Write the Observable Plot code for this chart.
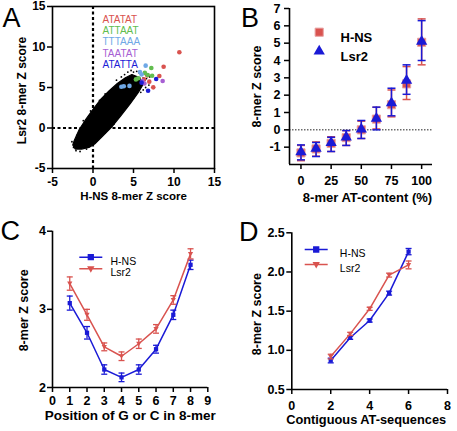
<!DOCTYPE html>
<html><head><meta charset="utf-8">
<script src="https://cdn.jsdelivr.net/npm/d3@7"></script>
<script src="https://cdn.jsdelivr.net/npm/@observablehq/plot@0.6"></script>
<style>
body{margin:0;background:#fff;}
#wrap{position:relative;width:457px;height:431px;overflow:hidden;background:#fff;}
</style></head><body><div id="wrap"></div>
<script>
// ---------- Panel A data ----------
const aDomain = [-5, 15];
const aTicks = [-5, 0, 5, 10, 15];
const aXLabel = "H-NS 8-mer Z score";
const aYLabel = "Lsr2 8-mer Z score";
// outline of the dense cloud of 8-mers
const blobX = [-2.5, -2.3, -1.7, -1.0, 0.0, 1.0, 2.0, 3.0, 4.0, 4.8, 5.8, 6.2, 5.6, 4.6, 3.5, 2.3, 1.2, 0.3, -0.5, -1.4, -2.2, -2.5];
const blobY = [-2.1, -1.5, -0.2, 0.9, 2.3, 3.6, 4.6, 5.5, 6.2, 6.6, 6.2, 5.4, 4.4, 3.0, 1.6, 0.1, -1.0, -1.9, -2.4, -2.6, -2.6, -2.1];
// scattered 8-mers at the cloud's edge
const looseX = [4.3, 4.7, 5.0, 5.4, 5.7, 3.9, 3.5, 6.2, 6.4, 6.6, 7.0, 6.9, 6.5, 6.2, 5.9, 6.0, 5.0, 4.5, 1.5, 0.8, -0.3, -1.2, -2.0, 3.0, 2.6, 1.5, 0.4, -2.4, -2.1, -1.6, -0.8, -2.6, 5.2, 4.0, 2.9];
const looseY = [6.9, 7.1, 6.9, 7.0, 6.8, 6.6, 6.3, 6.2, 5.9, 6.1, 6.3, 5.3, 5.0, 4.7, 4.4, 5.8, 3.7, 3.1, 4.2, 3.4, 2.1, 0.9, -0.9, 1.2, 0.5, -0.6, -1.6, -2.4, -2.8, -2.9, -2.6, -1.7, 4.1, 2.5, 5.9];
const motifs = ["ATATAT", "ATTAAT", "TTTAAA", "TAATAT", "ATATTA"];
const motifColors = ["#d9534f", "#62bd4f", "#6fa8e6", "#a75fd3", "#1c1cd6"];
const motifX = [
  [10.66, 8.72, 8.19, 6.95, 7.44, 6.3, 6.7],
  [7.2, 6.75, 7.3, 5.3, 5.6, 6.4],
  [6.5, 6.0, 4.5, 3.5, 3.8, 5.8],
  [8.6, 6.1, 6.35],
  [7.8, 6.8, 6.0]
];
const motifY = [
  [9.35, 7.57, 6.42, 5.72, 5.02, 6.0, 6.5],
  [7.4, 6.55, 6.45, 6.0, 6.15, 6.8],
  [7.7, 6.6, 5.2, 5.1, 5.15, 6.9],
  [5.8, 5.8, 5.5],
  [6.05, 4.6, 5.6]
];

// ---------- Panel B data ----------
const bXDomain = [-9.5, 109];
const bYDomain = [-2, 7];
const bXTicks = [0, 25, 50, 75, 100];
const bYTicks = [-1, 0, 1, 2, 3, 4, 5, 6, 7];
const atContent = [0, 12.5, 25, 37.5, 50, 62.5, 75, 87.5, 100];
const hnsB   = [-1.33, -1.1, -0.78, -0.45, 0, 0.62, 1.45, 2.65, 5.05];
const hnsBlo = [-1.78, -1.52, -1.25, -0.9, -0.5, 0.05, 0.75, 1.75, 3.75];
const hnsBhi = [-0.9, -0.7, -0.4, -0.05, 0.5, 1.3, 2.3, 3.65, 6.4];
const lsrB   = [-1.28, -1.08, -0.75, -0.42, 0.03, 0.65, 1.55, 2.85, 5.1];
const lsrBlo = [-1.73, -1.54, -1.25, -0.9, -0.5, 0.0, 0.81, 2.05, 4.0];
const lsrBhi = [-0.87, -0.73, -0.43, -0.04, 0.54, 1.31, 2.4, 3.75, 6.3];
const bXLabel = "8-mer AT-content (%)";
const bYLabel = "8-mer Z score";

// ---------- Panel C data ----------
const cXDomain = [0, 9];
const cYDomain = [2, 4];
const cXTicks = [0, 1, 2, 3, 4, 5, 6, 7, 8, 9];
const cYTicks = [2, 3, 4];
const position = [1, 2, 3, 4, 5, 6, 7, 8];
const hnsC    = [3.08, 2.70, 2.23, 2.13, 2.23, 2.49, 2.93, 3.57];
const hnsCerr = [0.09, 0.08, 0.06, 0.055, 0.06, 0.05, 0.06, 0.06];
const lsrC    = [3.33, 2.93, 2.52, 2.40, 2.56, 2.75, 3.12, 3.71];
const lsrCerr = [0.085, 0.07, 0.05, 0.055, 0.06, 0.055, 0.055, 0.065];
const cXLabel = "Position of G or C in 8-mer";

// ---------- Panel D data ----------
const dXDomain = [0, 8];
const dYDomain = [0.5, 2.5];
const dXTicks = [0, 2, 4, 6, 8];
const dYTicks = [0.5, 1.0, 1.5, 2.0, 2.5];
const contiguous = [2, 3, 4, 5, 6];
const hnsD    = [0.87, 1.16, 1.38, 1.73, 2.26];
const hnsDerr = [0.03, 0.02, 0.02, 0.025, 0.04];
const lsrD    = [0.92, 1.21, 1.53, 1.96, 2.09];
const lsrDerr = [0.03, 0.02, 0.02, 0.025, 0.05];
const dXLabel = "Contiguous AT-sequences";

const seriesNames = ["H-NS", "Lsr2"];
const panelLetters = ["A", "B", "C", "D"];

// ---------- styling ----------
const FONT = 'Arial, "Liberation Sans", Helvetica, sans-serif';
const RED = "#d9534f";
const BLUE = "#1a1ad6";
const wrap = document.getElementById("wrap");

// custom symbols
const capSym = {draw(ctx, size) { const r = Math.sqrt(size / Math.PI); ctx.moveTo(-r, 0); ctx.lineTo(r, 0); }};
const downTri = {draw(ctx, size) { const r = Math.sqrt(size / Math.PI); ctx.moveTo(0, r); ctx.lineTo(-r, -r * 0.75); ctx.lineTo(r, -r * 0.75); ctx.closePath(); }};
function keySym(marker) {
  return {draw(ctx, size) {
    const r = Math.sqrt(size / Math.PI);
    ctx.moveTo(-11.5, 0); ctx.lineTo(11.5, 0);
    if (marker === "square") { ctx.moveTo(-r, -r); ctx.lineTo(r, -r); ctx.lineTo(r, r); ctx.lineTo(-r, r); ctx.closePath(); }
    else { ctx.moveTo(0, r); ctx.lineTo(-r, -r * 0.75); ctx.lineTo(r, -r * 0.75); ctx.closePath(); }
  }};
}

function place(svg, left, top) {
  svg.style.position = "absolute";
  svg.style.left = left + "px";
  svg.style.top = top + "px";
  wrap.appendChild(svg);
}
const baseStyle = {fontFamily: FONT, fontSize: "12px", fontWeight: "bold", color: "black", background: "transparent", overflow: "visible"};
const fmt = d => String(d);

// ---------- Panel A ----------
const blob = blobX.map((x, i) => ({x, y: blobY[i]}));
const loose = looseX.map((x, i) => ({x, y: looseY[i]}));
const motifMarks = motifs.map((m, k) =>
  Plot.dot(motifX[k].map((x, i) => ({x, y: motifY[k][i]})), {x: "x", y: "y", r: 2.3, fill: motifColors[k], stroke: "none"}));
const motifLabels = motifs.map((m, k) =>
  Plot.text([m], {text: d => d, frameAnchor: "top-left", dx: 50, dy: 9 + k * 11.4, textAnchor: "start", fill: motifColors[k], fontSize: 10, fontWeight: "normal"}));
const plotA = Plot.plot({
  width: 228, height: 215, marginLeft: 52, marginRight: 14, marginTop: 6, marginBottom: 47,
  x: {domain: aDomain}, y: {domain: aDomain},
  style: baseStyle,
  marks: [
    Plot.line(blob, {x: "x", y: "y", fill: "black", stroke: "black", strokeWidth: 1.2}),
    Plot.dot(loose, {x: "x", y: "y", r: 0.9, fill: "black", stroke: "none"}),
    Plot.ruleX([0], {stroke: "black", strokeWidth: 2.2, strokeDasharray: "3,2.5"}),
    Plot.ruleY([0], {stroke: "black", strokeWidth: 2.2, strokeDasharray: "3,2.5"}),
    ...motifMarks,
    Plot.frame({stroke: "black", strokeWidth: 1.6}),
    Plot.axisX({ticks: aTicks, tickSize: 5, tickPadding: 4, tickFormat: fmt, label: null, strokeWidth: 1.5}),
    Plot.axisY({ticks: aTicks, tickSize: 5, tickPadding: 2, tickFormat: fmt, label: null, strokeWidth: 1.5}),
    Plot.text([aXLabel], {text: d => d, frameAnchor: "bottom", dy: 31, fontSize: 11.5}),
    Plot.text([aYLabel], {text: d => d, frameAnchor: "left", textAnchor: "middle", dx: -30, dy: 3, rotate: -90, fontSize: 12}),
    ...motifLabels
  ]
});
place(plotA, 0, 0);

// ---------- Panel B ----------
const bRows = atContent.map((at, i) => ({at, hns: hnsB[i], hlo: hnsBlo[i], hhi: hnsBhi[i], lsr: lsrB[i], llo: lsrBlo[i], lhi: lsrBhi[i]}));
const plotB = Plot.plot({
  width: 229, height: 215, marginLeft: 61, marginRight: 25, marginTop: 8, marginBottom: 51,
  x: {domain: bXDomain}, y: {domain: bYDomain},
  style: baseStyle,
  marks: [
    Plot.ruleY([0], {stroke: "#222", strokeWidth: 1, strokeDasharray: "1.5,1.5"}),
    Plot.ruleX([bXDomain[0]], {stroke: "black", strokeWidth: 1.6}),
    Plot.ruleY([bYDomain[0]], {stroke: "black", strokeWidth: 1.6}),
    Plot.ruleX(bRows, {x: "at", y1: "hlo", y2: "hhi", stroke: RED, strokeWidth: 1.5}),
    Plot.dot(bRows, {x: "at", y: "hlo", symbol: capSym, r: 4, stroke: RED, fill: "none", strokeWidth: 1.5}),
    Plot.dot(bRows, {x: "at", y: "hhi", symbol: capSym, r: 4, stroke: RED, fill: "none", strokeWidth: 1.5}),
    Plot.dot(bRows, {x: "at", y: "hns", symbol: "square", r: 4.6, fill: RED, stroke: "#e8a3a3", strokeWidth: 1}),
    Plot.ruleX(bRows, {x: "at", y1: "llo", y2: "lhi", stroke: BLUE, strokeWidth: 1.5}),
    Plot.dot(bRows, {x: "at", y: "llo", symbol: capSym, r: 4, stroke: BLUE, fill: "none", strokeWidth: 1.5}),
    Plot.dot(bRows, {x: "at", y: "lhi", symbol: capSym, r: 4, stroke: BLUE, fill: "none", strokeWidth: 1.5}),
    Plot.dot(bRows, {x: "at", y: "lsr", symbol: "triangle", r: 4.2, fill: BLUE, stroke: "none"}),
    Plot.axisX({ticks: bXTicks, tickSize: 5, tickPadding: 7, tickFormat: fmt, label: null, strokeWidth: 1.5, fontSize: 12.5}),
    Plot.axisY({ticks: bYTicks, tickSize: 5, tickPadding: 4, tickFormat: fmt, label: null, strokeWidth: 1.5, fontSize: 12.5}),
    Plot.text([bXLabel], {text: d => d, frameAnchor: "bottom", dx: 6.5, dy: 37.5, fontSize: 13}),
    Plot.text([bYLabel], {text: d => d, frameAnchor: "left", textAnchor: "middle", dx: -33, rotate: -90, fontSize: 12.5}),
    // legend
    Plot.dot([seriesNames[0]], {frameAnchor: "top-left", dx: 29.7, dy: 23.7, symbol: "square", r: 4.6, fill: RED, stroke: "#e8a3a3", strokeWidth: 1}),
    Plot.dot([seriesNames[1]], {frameAnchor: "top-left", dx: 29.7, dy: 42.7, symbol: "triangle", r: 4.2, fill: BLUE, stroke: "none"}),
    Plot.text([seriesNames[0]], {text: d => d, frameAnchor: "top-left", dx: 51, dy: 24, textAnchor: "start", fontSize: 13}),
    Plot.text([seriesNames[1]], {text: d => d, frameAnchor: "top-left", dx: 51, dy: 43, textAnchor: "start", fontSize: 13})
  ]
});
place(plotB, 228, 0);

// ---------- line panels C and D ----------
function linePanel(cfg) {
  const rows = cfg.x.map((x, i) => ({x, h: cfg.hns[i], hlo: cfg.hns[i] - cfg.hnsErr[i], hhi: cfg.hns[i] + cfg.hnsErr[i],
    l: cfg.lsr[i], llo: cfg.lsr[i] - cfg.lsrErr[i], lhi: cfg.lsr[i] + cfg.lsrErr[i]}));
  return Plot.plot({
    width: cfg.width, height: cfg.height, marginLeft: cfg.ml, marginRight: cfg.mr, marginTop: cfg.mt, marginBottom: cfg.mb,
    x: {domain: cfg.xDomain}, y: {domain: cfg.yDomain},
    style: baseStyle,
    marks: [
      Plot.ruleX([cfg.xDomain[0]], {stroke: "black", strokeWidth: 1.6}),
      Plot.ruleY([cfg.yDomain[0]], {stroke: "black", strokeWidth: 1.6}),
      Plot.line(rows, {x: "x", y: "h", stroke: BLUE, strokeWidth: 1.5}),
      Plot.ruleX(rows, {x: "x", y1: "hlo", y2: "hhi", stroke: BLUE, strokeWidth: 1.3}),
      Plot.dot(rows, {x: "x", y: "hlo", symbol: capSym, r: 3, stroke: BLUE, fill: "none", strokeWidth: 1.3}),
      Plot.dot(rows, {x: "x", y: "hhi", symbol: capSym, r: 3, stroke: BLUE, fill: "none", strokeWidth: 1.3}),
      Plot.dot(rows, {x: "x", y: "h", symbol: "square", r: 2.4, fill: BLUE, stroke: "none"}),
      Plot.line(rows, {x: "x", y: "l", stroke: RED, strokeWidth: 1.5}),
      Plot.ruleX(rows, {x: "x", y1: "llo", y2: "lhi", stroke: RED, strokeWidth: 1.3}),
      Plot.dot(rows, {x: "x", y: "llo", symbol: capSym, r: 3, stroke: RED, fill: "none", strokeWidth: 1.3}),
      Plot.dot(rows, {x: "x", y: "lhi", symbol: capSym, r: 3, stroke: RED, fill: "none", strokeWidth: 1.3}),
      Plot.dot(rows, {x: "x", y: "l", symbol: downTri, r: 2.6, fill: RED, stroke: "none"}),
      Plot.axisX({ticks: cfg.xTicks, tickSize: 5, tickPadding: cfg.xPad, tickFormat: fmt, label: null, strokeWidth: 1.5, fontSize: 12.5}),
      Plot.axisY({ticks: cfg.yTicks, tickSize: 5, tickPadding: cfg.yPad, tickFormat: cfg.yFmt, label: null, strokeWidth: 1.5, fontSize: 12.5}),
      Plot.text([cfg.xLabel], {text: d => d, frameAnchor: "bottom", dx: cfg.xLdx, dy: cfg.xLdy, fontSize: cfg.xLsize}),
      Plot.text([bYLabel], {text: d => d, frameAnchor: "left", textAnchor: "middle", dx: cfg.yLdx, dy: cfg.yLdy, rotate: -90, fontSize: 12.5}),
      // legend
      Plot.dot([seriesNames[0]], {frameAnchor: "top-left", dx: cfg.kx, dy: cfg.ky, symbol: keySym("square"), r: 2.4, fill: BLUE, stroke: BLUE, strokeWidth: 1.5}),
      Plot.dot([seriesNames[1]], {frameAnchor: "top-left", dx: cfg.kx, dy: cfg.ky + cfg.kgap, symbol: keySym("tri"), r: 2.4, fill: RED, stroke: RED, strokeWidth: 1.5}),
      Plot.text([seriesNames[0]], {text: d => d, frameAnchor: "top-left", dx: cfg.tx, dy: cfg.ky, textAnchor: "start", fontSize: 10.5, fontWeight: "normal"}),
      Plot.text([seriesNames[1]], {text: d => d, frameAnchor: "top-left", dx: cfg.tx, dy: cfg.ky + cfg.kgap, textAnchor: "start", fontSize: 10.5, fontWeight: "normal"})
    ]
  });
}

const plotC = linePanel({
  width: 228, height: 216, ml: 52, mr: 20.7, mt: 15.7, mb: 44,
  x: position, hns: hnsC, hnsErr: hnsCerr, lsr: lsrC, lsrErr: lsrCerr,
  xDomain: cXDomain, yDomain: cYDomain, xTicks: cXTicks, yTicks: cYTicks, yFmt: fmt,
  xPad: 3.5, yPad: 1.5, xLabel: cXLabel, xLdx: 0, xLdy: 32, xLsize: 13.5, yLdx: -29, yLdy: 1,
  kx: 38.3, ky: 26, kgap: 11.6, tx: 58
});
place(plotC, 0, 215);

const plotD = linePanel({
  width: 229, height: 216, ml: 63.3, mr: 10, mt: 17.3, mb: 42,
  x: contiguous, hns: hnsD, hnsErr: hnsDerr, lsr: lsrD, lsrErr: lsrDerr,
  xDomain: dXDomain, yDomain: dYDomain, xTicks: dXTicks, yTicks: dYTicks, yFmt: d3.format(".1f"),
  xPad: 6.5, yPad: 2, xLabel: dXLabel, xLdx: -3.5, xLdy: 34, xLsize: 12.8, yLdx: -35, yLdy: 3,
  kx: 24.4, ky: 16.7, kgap: 15, tx: 48
});
place(plotD, 228, 215);

// ---------- panel letters ----------
const ns = "http://www.w3.org/2000/svg";
const over = document.createElementNS(ns, "svg");
over.setAttribute("width", 457); over.setAttribute("height", 431);
over.style.position = "absolute"; over.style.left = "0px"; over.style.top = "0px"; over.style.pointerEvents = "none";
const letterPos = [[2.5, 26.5], [241, 26.5], [0.5, 239.5], [239, 241]];
panelLetters.forEach((L, i) => {
  const t = document.createElementNS(ns, "text");
  t.setAttribute("x", letterPos[i][0]); t.setAttribute("y", letterPos[i][1]);
  t.setAttribute("font-family", FONT); t.setAttribute("font-size", "27");
  t.textContent = L;
  over.appendChild(t);
});
wrap.appendChild(over);
</script></body></html>
